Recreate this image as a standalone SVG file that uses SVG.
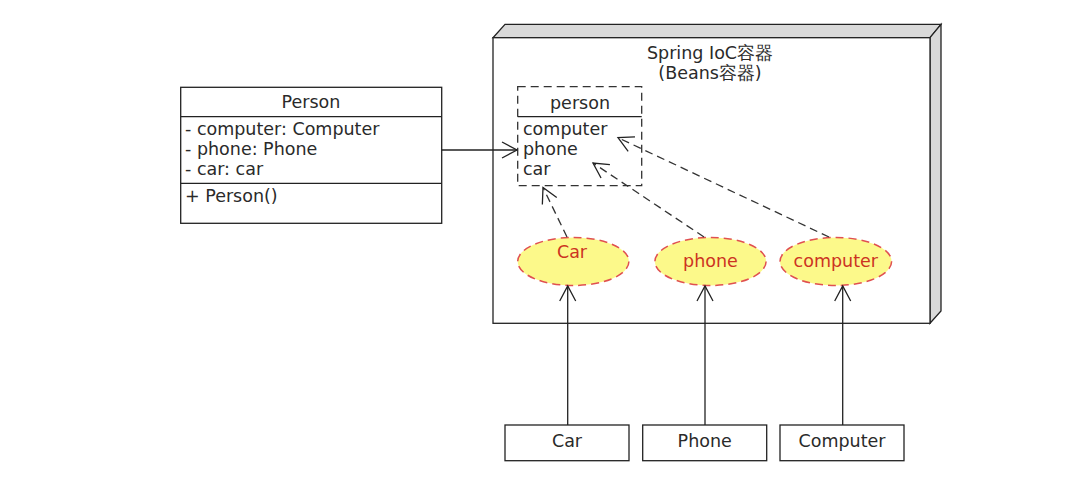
<svg xmlns="http://www.w3.org/2000/svg" width="1081" height="497" viewBox="0 0 1081 497">
<style>
text{font-family:"DejaVu Sans",sans-serif;font-size:17.5px;fill:#2a2a2a}
.box{fill:#fff;stroke:#222;stroke-width:1.3}
.line{fill:none;stroke:#222;stroke-width:1.3}
.dash{fill:none;stroke:#333;stroke-width:1.3;stroke-dasharray:8,5}
.bean{fill:#fcf98a;stroke:#e05050;stroke-width:1.5;stroke-dasharray:8,5}
.bt{fill:#cc3322;text-anchor:middle}
.c{text-anchor:middle}
</style>
<defs>
<marker id="open" viewBox="0 0 20 20" refX="16" refY="10" markerWidth="20" markerHeight="20" markerUnits="userSpaceOnUse" orient="auto">
<path d="M1,2 L16,10 L1,18" fill="none" stroke="#222" stroke-width="1.3"/>
</marker>
</defs>
<rect width="1081" height="497" fill="#fff"/>
<g id="container">
<polygon points="493,37.7 505,24.3 941,24.3 930,37.7" fill="#d9d9d9" stroke="#222" stroke-width="1.3"/>
<polygon points="930,37.7 941,24.3 941,311 930,323.3" fill="#d9d9d9" stroke="#222" stroke-width="1.3"/>
<rect class="box" x="493" y="37.7" width="437" height="285.6"/>
<text class="c" x="710" y="59">Spring IoC容器</text>
<text class="c" x="710" y="79">(Beans容器)</text>
</g>
<g id="Person">
<rect class="box" x="180.7" y="87.3" width="261" height="136"/>
<line class="line" x1="180.7" y1="116.7" x2="441.7" y2="116.7"/>
<line class="line" x1="180.7" y1="183.3" x2="441.7" y2="183.3"/>
<text class="c" x="311" y="108">Person</text>
<text x="185" y="135">- computer: Computer</text>
<text x="185" y="155">- phone: Phone</text>
<text x="185" y="175">- car: car</text>
<text x="185" y="202">+ Person()</text>
</g>
<g id="person">
<rect class="dash" x="517.7" y="86.7" width="124" height="99"/>
<line class="line" x1="517.7" y1="116.7" x2="641.7" y2="116.7"/>
<text class="c" x="580" y="109">person</text>
<text x="523" y="135">computer</text>
<text x="523" y="155">phone</text>
<text x="523" y="175">car</text>
</g>
<g id="bean-car">
<ellipse class="bean" cx="573.3" cy="261.5" rx="55.6" ry="24"/>
<text class="bt" x="572" y="258">Car</text>
</g>
<g id="bean-phone">
<ellipse class="bean" cx="710.5" cy="261.5" rx="55.6" ry="24"/>
<text class="bt" x="710.5" y="267">phone</text>
</g>
<g id="bean-computer">
<ellipse class="bean" cx="835.8" cy="261.5" rx="55.8" ry="24"/>
<text class="bt" x="835.8" y="267">computer</text>
</g>
<g id="Car">
<rect class="box" x="505" y="425" width="124" height="35.7"/>
<text class="c" x="567" y="447">Car</text>
</g>
<g id="Phone">
<rect class="box" x="642.7" y="425" width="124" height="35.7"/>
<text class="c" x="704.7" y="447">Phone</text>
</g>
<g id="Computer">
<rect class="box" x="780" y="425" width="124" height="35.7"/>
<text class="c" x="842" y="447">Computer</text>
</g>
<g id="connectors">
<line class="line" x1="441.7" y1="150" x2="517" y2="150" marker-end="url(#open)"/>
<line class="dash" x1="567" y1="237" x2="543" y2="187.5" marker-end="url(#open)"/>
<line class="dash" x1="704" y1="237" x2="593" y2="163" marker-end="url(#open)"/>
<line class="dash" x1="829" y1="237" x2="618" y2="137.7" marker-end="url(#open)"/>
<line class="line" x1="567.7" y1="425" x2="567.7" y2="286" marker-end="url(#open)"/>
<line class="line" x1="705" y1="425" x2="705" y2="286" marker-end="url(#open)"/>
<line class="line" x1="842.7" y1="425" x2="842.7" y2="286" marker-end="url(#open)"/>
</g>
</svg>
